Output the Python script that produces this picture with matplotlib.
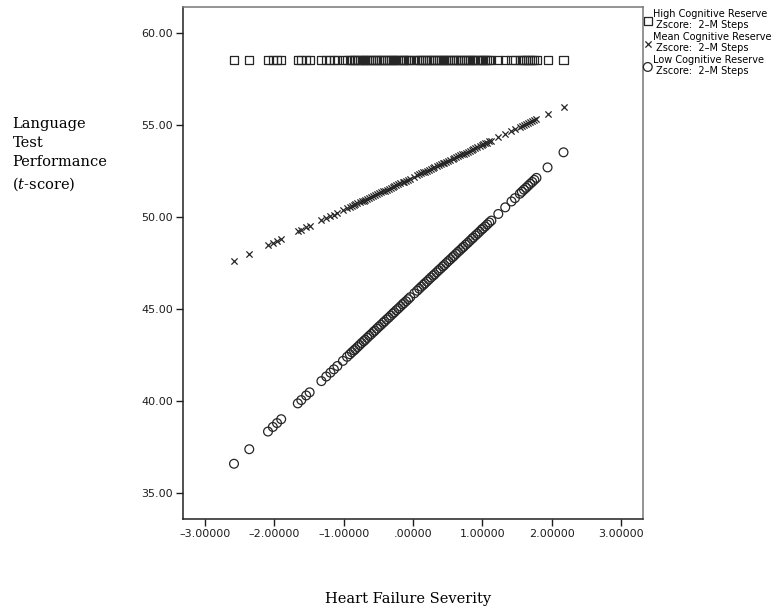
import matplotlib
matplotlib.use("Agg")
import matplotlib.pyplot as plt
from matplotlib.ticker import FuncFormatter

# heart failure severity (z-score) for each case
severity = [-2.58, -2.36, -2.09, -2.02, -1.96, -1.90, -1.66, -1.61, -1.54, -1.49,
            -1.32, -1.25, -1.19, -1.14, -1.09, -1.01, -0.95, -0.91, -0.88, -0.85,
            -0.83, -0.80, -0.77, -0.74, -0.71, -0.69, -0.66, -0.63, -0.60, -0.57,
            -0.55, -0.52, -0.49, -0.46, -0.43, -0.41, -0.38, -0.35, -0.32, -0.29,
            -0.27, -0.24, -0.21, -0.18, -0.15, -0.13, -0.10, -0.07, -0.04, 0.02,
            0.06, 0.09, 0.12, 0.15, 0.17, 0.20, 0.23, 0.26, 0.29, 0.31,
            0.34, 0.37, 0.40, 0.43, 0.45, 0.48, 0.51, 0.54, 0.57, 0.59,
            0.62, 0.65, 0.68, 0.71, 0.73, 0.76, 0.79, 0.82, 0.85, 0.87,
            0.90, 0.93, 0.96, 0.99, 1.01, 1.04, 1.07, 1.10, 1.13, 1.23,
            1.33, 1.42, 1.47, 1.54, 1.57, 1.60, 1.63, 1.66, 1.69, 1.72,
            1.75, 1.78, 1.94, 2.17]

high_reserve = [58.55] * len(severity)

mean_reserve = [47.60, 47.99, 48.46, 48.59, 48.69, 48.80, 49.22, 49.31, 49.44, 49.52,
                49.83, 49.95, 50.06, 50.14, 50.23, 50.37, 50.48, 50.55, 50.60, 50.66,
                50.69, 50.75, 50.80, 50.85, 50.90, 50.94, 50.99, 51.05, 51.10, 51.15,
                51.19, 51.24, 51.29, 51.35, 51.40, 51.43, 51.49, 51.54, 51.59, 51.65,
                51.68, 51.74, 51.79, 51.84, 51.90, 51.93, 51.98, 52.04, 52.09, 52.20,
                52.27, 52.32, 52.37, 52.43, 52.46, 52.51, 52.57, 52.62, 52.67, 52.71,
                52.76, 52.81, 52.87, 52.92, 52.96, 53.01, 53.06, 53.12, 53.17, 53.20,
                53.26, 53.31, 53.36, 53.42, 53.45, 53.50, 53.56, 53.61, 53.66, 53.70,
                53.75, 53.81, 53.86, 53.91, 53.95, 54.00, 54.05, 54.11, 54.16, 54.34,
                54.51, 54.67, 54.76, 54.88, 54.94, 54.99, 55.04, 55.10, 55.15, 55.20,
                55.26, 55.31, 55.59, 56.00]

low_reserve = [36.60, 37.39, 38.35, 38.60, 38.81, 39.02, 39.88, 40.06, 40.31, 40.48,
               41.09, 41.34, 41.55, 41.73, 41.91, 42.19, 42.41, 42.55, 42.66, 42.76,
               42.83, 42.94, 43.05, 43.16, 43.26, 43.33, 43.44, 43.55, 43.65, 43.76,
               43.83, 43.94, 44.05, 44.15, 44.26, 44.33, 44.44, 44.54, 44.65, 44.76,
               44.83, 44.94, 45.04, 45.15, 45.26, 45.33, 45.43, 45.54, 45.65, 45.86,
               46.00, 46.11, 46.22, 46.32, 46.40, 46.50, 46.61, 46.72, 46.82, 46.89,
               47.00, 47.11, 47.21, 47.32, 47.39, 47.50, 47.61, 47.71, 47.82, 47.89,
               48.00, 48.11, 48.21, 48.32, 48.39, 48.50, 48.60, 48.71, 48.82, 48.89,
               49.00, 49.10, 49.21, 49.32, 49.39, 49.49, 49.60, 49.71, 49.81, 50.17,
               50.53, 50.85, 51.03, 51.27, 51.38, 51.49, 51.59, 51.70, 51.81, 51.91,
               52.02, 52.13, 52.70, 53.52]

x_ticks = [-3, -2, -1, 0, 1, 2, 3]
y_ticks = [35, 40, 45, 50, 55, 60]
labels = ["High Cognitive Reserve\n Zscore:  2\u2013M Steps",
          "Mean Cognitive Reserve\n Zscore:  2\u2013M Steps",
          "Low Cognitive Reserve\n Zscore:  2\u2013M Steps"]

plt.rcParams['mathtext.fontset'] = 'custom'
plt.rcParams['mathtext.it'] = 'DejaVu Serif:italic'
plt.rcParams['mathtext.rm'] = 'DejaVu Serif'

fig = plt.figure(figsize=(7.77, 6.16), dpi=100)
ax = fig.add_axes([0.2351, 0.1575, 0.5928, 0.8307])

ink = '#262626'
ax.scatter(severity, high_reserve, marker='s', s=34, facecolors='none',
           edgecolors=ink, linewidths=0.9, label=labels[0])
ax.scatter(severity, mean_reserve, marker='x', s=20, c=ink,
           linewidths=0.9, label=labels[1])
ax.scatter(severity, low_reserve, marker='o', s=40, facecolors='none',
           edgecolors=ink, linewidths=0.9, label=labels[2])

ax.set_xlim(-3.32, 3.32)
ax.set_ylim(33.6, 61.4)
ax.set_xticks(x_ticks)
ax.set_yticks(y_ticks)

def fmt_x(v, pos):
    s = "%.5f" % v
    if s.startswith("0"):
        s = s[1:]
    return s.replace("-", "\u2013")

ax.xaxis.set_major_formatter(FuncFormatter(fmt_x))
ax.yaxis.set_major_formatter(FuncFormatter(lambda v, p: "%.2f" % v))
ax.tick_params(direction='out', length=5, width=1, labelsize=8, colors='#1e1e1e', pad=2)

for side in ['left', 'bottom']:
    ax.spines[side].set_color('#222222')
    ax.spines[side].set_linewidth(1.1)
for side in ['top', 'right']:
    ax.spines[side].set_color('#777777')
    ax.spines[side].set_linewidth(1.1)

fig.text(0.016, 0.81, "Language\nTest\nPerformance\n($\\it{t}$-score)", ha='left', va='top',
         family='DejaVu Serif', fontsize=10.5, linespacing=1.45)
fig.text(0.525, 0.028, "Heart Failure Severity", ha='center', va='center',
         family='DejaVu Serif', fontsize=10.5)

ax.legend(loc='upper left', bbox_to_anchor=(0.995, 1.005), frameon=False,
          fontsize=7, handlelength=0.6, handletextpad=0.25, labelspacing=0.15,
          borderaxespad=0, markerscale=1.0)

fig.savefig("out.png", dpi=100)
